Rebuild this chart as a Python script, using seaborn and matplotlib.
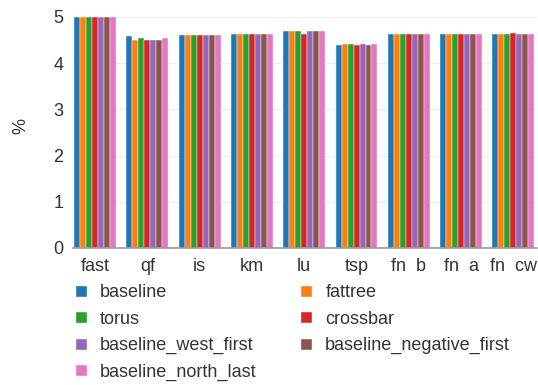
import matplotlib
matplotlib.use("Agg")
import matplotlib.pyplot as plt
import seaborn as sns
import pandas as pd
from matplotlib.patches import Patch

categories = ["fast", "qf", "is", "km", "lu", "tsp", "fn  b", "fn  a", "fn  cw"]
series_names = ["baseline", "fattree", "torus", "crossbar",
                "baseline_west_first", "baseline_negative_first", "baseline_north_last"]
baseline = [4.99, 4.58, 4.61, 4.63, 4.69, 4.39, 4.64, 4.64, 4.64]
fattree = [4.99, 4.51, 4.61, 4.63, 4.69, 4.41, 4.64, 4.64, 4.64]
torus = [4.99, 4.55, 4.61, 4.63, 4.69, 4.41, 4.64, 4.64, 4.64]
crossbar = [4.99, 4.51, 4.61, 4.63, 4.63, 4.39, 4.64, 4.64, 4.645]
baseline_west_first = [4.99, 4.51, 4.61, 4.63, 4.69, 4.42, 4.64, 4.64, 4.64]
baseline_negative_first = [4.99, 4.51, 4.61, 4.63, 4.69, 4.40, 4.64, 4.64, 4.64]
baseline_north_last = [4.99, 4.55, 4.61, 4.63, 4.69, 4.42, 4.64, 4.64, 4.64]
yticks = [0, 1, 2, 3, 4, 5]

series_values = [baseline, fattree, torus, crossbar,
                 baseline_west_first, baseline_negative_first, baseline_north_last]
rows = []
for name, vals in zip(series_names, series_values):
    for c, v in zip(categories, vals):
        rows.append({"cat": c, "series": name, "value": v})
df = pd.DataFrame(rows)

sns.set_theme(style="white")
plt.rcParams["font.family"] = ["Liberation Sans", "DejaVu Sans"]
text_color = "#333333"

palette = sns.color_palette("tab10", 7)
fig = plt.figure(figsize=(5.38, 3.85), dpi=100)
ax = fig.add_axes([0.136, 0.356, 0.862, 0.600])
sns.barplot(data=df, x="cat", y="value", hue="series", order=categories,
            hue_order=series_names, palette=palette, ax=ax, width=0.8,
            edgecolor="white", linewidth=0.3, legend=False, saturation=1)

ax.set_ylim(0, 5)
ax.set_xlim(-0.42, 8.45)
ax.set_yticks(yticks)
ax.set_yticklabels([str(t) for t in yticks])
ax.yaxis.grid(True, color="#eeeeee", linewidth=1)
ax.set_axisbelow(True)
for s in ["top", "right", "left"]:
    ax.spines[s].set_visible(False)
ax.spines["bottom"].set_color("#999999")
ax.spines["bottom"].set_linewidth(1.2)
ax.tick_params(axis="y", length=4, color="#dddddd", labelsize=13, labelcolor=text_color, pad=3)
ax.tick_params(axis="x", length=0, labelsize=13, labelcolor=text_color, pad=7)
ax.set_xlabel("")
ax.set_ylabel("%", fontsize=13, color=text_color)
ax.yaxis.set_label_coords(-0.095, 0.53)

order = [0, 2, 4, 6, 1, 3, 5]
handles = [Patch(facecolor=palette[i], label=series_names[i]) for i in order]
fig.legend(handles=handles, ncol=2, loc="upper left", bbox_to_anchor=(0.139, 0.262),
           frameon=False, fontsize=13, handlelength=0.65, handleheight=0.65,
           handletextpad=0.75, columnspacing=2.4, labelspacing=0.52, labelcolor=text_color,
           borderaxespad=0, borderpad=0)

fig.savefig("out.png", dpi=100)
